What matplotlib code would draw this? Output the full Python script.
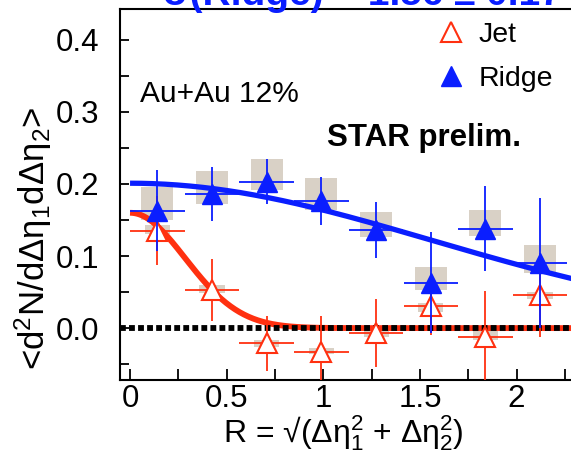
import numpy as np
import matplotlib
matplotlib.use("Agg")
import matplotlib.pyplot as plt
from matplotlib.patches import Rectangle
from matplotlib.lines import Line2D

plt.rcParams["font.family"] = ["Liberation Sans", "DejaVu Sans"]
plt.rcParams["mathtext.fontset"] = "custom"
plt.rcParams["mathtext.rm"] = "Liberation Sans"
plt.rcParams["mathtext.it"] = "Liberation Sans"
plt.rcParams["mathtext.bf"] = "Liberation Sans:bold"
plt.rcParams["mathtext.default"] = "regular"

# Bin centres in R and half bin width
r_centers = [0.141, 0.424, 0.707, 0.990, 1.273, 1.556, 1.838, 2.121]
r_halfwidth = 0.141

# Ridge component: values, statistical errors, systematic band
ridge_vals = [0.163, 0.186, 0.203, 0.176, 0.136, 0.063, 0.138, 0.090]
ridge_err = [0.056, 0.037, 0.031, 0.033, 0.039, 0.070, 0.059, 0.090]
ridge_sys_lo = [0.150, 0.172, 0.192, 0.164, 0.126, 0.053, 0.128, 0.076]
ridge_sys_hi = [0.196, 0.218, 0.234, 0.208, 0.161, 0.085, 0.164, 0.115]

# Jet component
jet_vals = [0.135, 0.053, -0.021, -0.033, -0.007, 0.031, -0.013, 0.046]
jet_err = [0.048, 0.043, 0.038, 0.050, 0.047, 0.040, 0.065, 0.058]
jet_sys_lo = [0.131, 0.049, -0.026, -0.036, -0.012, 0.022, -0.017, 0.041]
jet_sys_hi = [0.143, 0.060, -0.017, -0.028, 0.000, 0.035, -0.003, 0.050]

# Gaussian fit parameters (amplitude, width)
ridge_fit = (0.201, 1.56)
jet_fit = (0.160, 0.285)

x_ticks = [0, 0.5, 1, 1.5, 2]
x_ticklabels = ["0", "0.5", "1", "1.5", "2"]
y_ticks = [0.0, 0.1, 0.2, 0.3, 0.4]
y_ticklabels = ["0.0", "0.1", "0.2", "0.3", "0.4"]

BLUE = "#0a1eff"
RED = "#ff3010"
SYS = "#d9d1c6"

W, H = 571, 461
fig = plt.figure(figsize=(W / 100, H / 100), dpi=100)
ax_left, ax_right = 120, 580
ax_top, ax_bottom = 9.5, 380
ax = fig.add_axes([ax_left / W, 1 - ax_bottom / H,
                   (ax_right - ax_left) / W, (ax_bottom - ax_top) / H])
ax.set_xlim(-0.052, 2.328)
ax.set_ylim(-0.072, 0.442)

# systematic boxes
box_hw_ridge = 0.083
box_hw_jet = 0.065
for x, lo, hi in zip(r_centers, ridge_sys_lo, ridge_sys_hi):
    ax.add_patch(Rectangle((x - box_hw_ridge, lo), 2 * box_hw_ridge, hi - lo,
                           facecolor=SYS, edgecolor="none", zorder=1))
for x, lo, hi in zip(r_centers, jet_sys_lo, jet_sys_hi):
    ax.add_patch(Rectangle((x - box_hw_jet, lo), 2 * box_hw_jet, hi - lo,
                           facecolor=SYS, edgecolor="none", zorder=1))

# fit curves
rr = np.linspace(0, 2.33, 400)
ax.plot(rr, ridge_fit[0] * np.exp(-rr**2 / (2 * ridge_fit[1]**2)),
        color=BLUE, lw=3.8, zorder=3, solid_capstyle="butt")
ax.plot(rr, jet_fit[0] * np.exp(-rr**2 / (2 * jet_fit[1]**2)),
        color=RED, lw=4.2, zorder=3, solid_capstyle="butt")

# zero line
ax.axhline(0, color="black", lw=4.2, linestyle=(0, (1.0, 0.55)), zorder=4)

# data points
ax.errorbar(r_centers, jet_vals, xerr=r_halfwidth, yerr=jet_err, fmt="^",
            ms=14, mfc="white", mec=RED, mew=1.5, ecolor=RED, elinewidth=1.3,
            capsize=0, zorder=5)
ax.errorbar(r_centers, ridge_vals, xerr=r_halfwidth, yerr=ridge_err, fmt="^",
            ms=14, mfc=BLUE, mec=BLUE, ecolor=BLUE, elinewidth=1.3,
            capsize=0, zorder=6)

# axes styling
ax.spines["right"].set_visible(False)
for side in ("left", "bottom", "top"):
    ax.spines[side].set_linewidth(1.5)
ax.set_xticks(x_ticks)
ax.set_xticklabels(x_ticklabels)
ax.set_yticks(y_ticks)
ax.set_yticklabels(y_ticklabels)
ax.set_xticks(np.arange(0, 2.3, 0.25), minor=True)
ax.set_yticks(np.arange(-0.05, 0.44, 0.05), minor=True)
ax.tick_params(axis="both", which="both", direction="in", width=1.3,
               labelsize=22.5, top=False, right=False)
ax.tick_params(axis="x", which="both", length=8, pad=3)
ax.tick_params(axis="y", which="both", length=6.5, pad=15)

ax.set_xlabel(r"R = √(Δη$_1^2$ + Δη$_2^2$)", fontsize=23)
ax.xaxis.set_label_coords((343 - ax_left) / (ax_right - ax_left),
                          -(433 - ax_bottom) / (ax_bottom - ax_top))
ax.xaxis.label.set_va("center")
fig.text(33 / W, 1 - 238 / H, r"<d$^2$N/dΔη$_1$dΔη$_2$>", fontsize=25,
         rotation=90, ha="center", va="center")

ax.text(140 / W, 1 - 94 / H, "Au+Au 12%", fontsize=21.5, transform=fig.transFigure,
        ha="left", va="center")
ax.text(327 / W, 1 - 146 / H, "STAR prelim.", fontsize=22.5, fontweight="bold",
        transform=fig.transFigure, ha="left", va="baseline")
fig.text(163 / W, 1 - 5 / H, "σ(Ridge) = 1.56 ± 0.17", fontsize=28,
         fontweight="bold", color=BLUE, ha="left", va="baseline")

handles = [Line2D([], [], ls="none", marker="^", ms=14, mfc="white", mec=RED, mew=1.5),
           Line2D([], [], ls="none", marker="^", ms=14, mfc=BLUE, mec=BLUE)]
ax.legend(handles, ["Jet", "Ridge"], loc="upper left",
          bbox_to_anchor=(437 / W, 1 - 22 / H), bbox_transform=fig.transFigure,
          frameon=False, fontsize=20.5, handlelength=1.0, handletextpad=0.45,
          labelspacing=0.62, borderpad=0, borderaxespad=0)

fig.savefig("out.png", dpi=100)
